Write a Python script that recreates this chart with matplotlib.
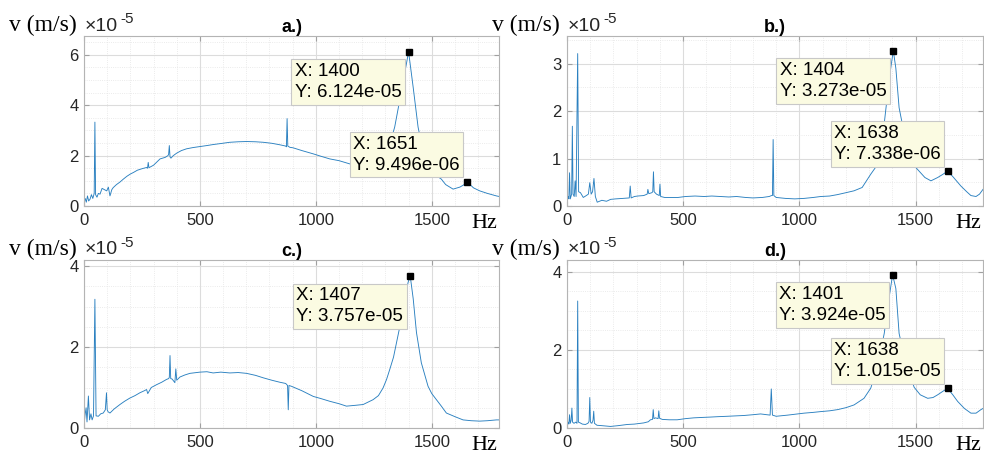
import matplotlib
matplotlib.use("Agg")
import matplotlib.pyplot as plt
from matplotlib.ticker import MultipleLocator

plt.rcParams['font.family'] = ['Liberation Sans', 'DejaVu Sans']

# espectros (velocidad en unidades de 1e-5 m/s, frecuencia en Hz)
f_a = [0, 5, 10, 15, 20, 26, 32, 38, 44, 47, 50, 56, 62, 69, 78, 88, 98, 105, 112, 120,
       126, 140, 155, 170, 185, 200, 213, 230, 250, 270, 274, 277, 280, 300, 328, 350, 362, 365, 368, 371,
       375, 385, 400, 420, 442, 470, 500, 530, 557, 590, 629, 665, 701, 740, 773, 810, 845, 870, 873, 876,
       879, 888, 902, 940, 989, 1020, 1060, 1100, 1147, 1190, 1230, 1270, 1300, 1320, 1340, 1370, 1400, 1420, 1441, 1460,
       1480, 1500, 1520, 1541, 1560, 1592, 1610, 1621, 1640, 1651, 1665, 1680, 1707, 1740, 1779, 1790]
v_a = [0.13, 0.3, 0.15, 0.4, 0.2, 0.27, 0.45, 0.3, 0.5, 3.33, 0.45, 0.35, 0.5, 0.47, 0.7, 0.65, 0.6, 0.75, 0.4, 0.65,
       0.73, 0.85, 0.95, 1.07, 1.18, 1.27, 1.33, 1.42, 1.48, 1.53, 1.5, 1.73, 1.52, 1.62, 1.87, 1.93, 2.0, 2.05, 2.4, 1.95,
       1.9, 2.0, 2.1, 2.2, 2.27, 2.32, 2.36, 2.4, 2.44, 2.48, 2.53, 2.55, 2.56, 2.55, 2.53, 2.49, 2.43, 2.38, 2.35, 3.47,
       2.38, 2.33, 2.31, 2.2, 2.07, 1.98, 1.87, 1.8, 1.67, 1.6, 1.6, 1.75, 2.05, 2.5, 3.13, 4.6, 6.124, 4.7, 3.13, 2.3,
       1.75, 1.4, 1.2, 1.07, 0.85, 0.67, 0.72, 0.75, 0.85, 0.9496, 0.85, 0.72, 0.6, 0.5, 0.4, 0.38]

f_b = [0, 5, 8, 11, 14, 20, 23, 26, 31, 35, 39, 46, 50, 58, 70, 80, 92, 98, 104, 110,
       116, 122, 130, 150, 170, 188, 210, 240, 268, 272, 276, 290, 304, 330, 345, 348, 352, 365, 369, 372,
       375, 385, 397, 400, 403, 420, 450, 478, 510, 551, 590, 623, 660, 696, 730, 768, 800, 841, 870, 880,
       884, 887, 890, 900, 940, 980, 1020, 1060, 1092, 1130, 1164, 1200, 1235, 1270, 1307, 1333, 1355, 1372, 1390, 1404,
       1415, 1429, 1460, 1501, 1540, 1566, 1595, 1615, 1638, 1660, 1695, 1720, 1738, 1760, 1775, 1790]
v_b = [0.14, 0.2, 0.15, 0.7, 0.15, 0.25, 1.68, 0.25, 0.2, 0.53, 0.2, 3.21, 0.3, 0.28, 0.18, 0.21, 0.25, 0.49, 0.25, 0.3,
       0.58, 0.2, 0.08, 0.12, 0.1, 0.14, 0.15, 0.16, 0.17, 0.42, 0.17, 0.2, 0.21, 0.22, 0.25, 0.35, 0.26, 0.28, 0.3, 0.72,
       0.3, 0.25, 0.22, 0.46, 0.2, 0.18, 0.18, 0.18, 0.2, 0.21, 0.2, 0.21, 0.2, 0.19, 0.2, 0.18, 0.17, 0.18, 0.2, 0.22,
       0.22, 1.40, 0.22, 0.18, 0.16, 0.15, 0.16, 0.18, 0.2, 0.21, 0.24, 0.28, 0.32, 0.39, 0.67, 0.85, 1.3, 2.04, 2.8, 3.273,
       2.9, 2.07, 1.3, 0.81, 0.6, 0.53, 0.6, 0.66, 0.7338, 0.62, 0.42, 0.3, 0.22, 0.2, 0.25, 0.35]

f_c = [0, 4, 9, 13, 19, 24, 30, 35, 41, 47, 52, 62, 72, 83, 92, 97, 100, 104, 112, 130,
       155, 175, 198, 220, 241, 260, 270, 275, 290, 313, 335, 356, 365, 368, 371, 374, 380, 392, 396, 400,
       414, 435, 457, 500, 530, 557, 590, 629, 665, 701, 740, 773, 810, 845, 870, 878, 881, 884, 895, 940,
       989, 1020, 1060, 1100, 1132, 1170, 1204, 1247, 1270, 1290, 1305, 1319, 1335, 1348, 1369, 1385, 1398, 1407, 1420, 1434,
       1455, 1484, 1500, 1520, 1540, 1563, 1600, 1635, 1670, 1707, 1740, 1779, 1790]
v_c = [0.05, 0.3, 0.5, 0.15, 0.79, 0.2, 0.35, 0.2, 0.3, 3.18, 0.3, 0.29, 0.35, 0.37, 0.45, 0.87, 0.45, 0.4, 0.37, 0.47,
       0.58, 0.66, 0.74, 0.8, 0.87, 0.92, 0.95, 0.85, 1.0, 1.07, 1.13, 1.2, 1.22, 1.25, 1.79, 1.22, 1.21, 1.12, 1.46, 1.18,
       1.26, 1.31, 1.35, 1.38, 1.39, 1.36, 1.38, 1.36, 1.37, 1.35, 1.3, 1.24, 1.18, 1.13, 1.1, 1.05, 0.45, 1.05, 1.03, 0.92,
       0.78, 0.73, 0.66, 0.6, 0.54, 0.56, 0.58, 0.7, 0.8, 0.99, 1.2, 1.45, 1.75, 2.11, 2.69, 3.2, 3.6, 3.757, 3.19, 2.36,
       1.61, 1.03, 0.85, 0.7, 0.55, 0.37, 0.28, 0.2, 0.18, 0.17, 0.18, 0.2, 0.2]

f_d = [0, 5, 8, 11, 14, 18, 21, 24, 30, 38, 43, 46, 49, 57, 66, 79, 90, 95, 98, 101,
       107, 112, 115, 118, 129, 150, 187, 220, 259, 290, 330, 350, 359, 368, 371, 374, 381, 392, 395, 398,
       410, 440, 474, 510, 546, 580, 618, 650, 690, 725, 761, 800, 833, 860, 874, 879, 884, 900, 950, 1020,
       1060, 1092, 1130, 1164, 1200, 1235, 1278, 1307, 1335, 1365, 1385, 1401, 1415, 1429, 1460, 1494, 1520, 1552, 1575, 1595,
       1620, 1638, 1660, 1681, 1710, 1738, 1760, 1781, 1790]
v_d = [0.09, 0.15, 0.1, 0.34, 0.12, 0.2, 0.51, 0.15, 0.12, 0.15, 0.12, 3.25, 0.15, 0.13, 0.1, 0.09, 0.12, 0.17, 0.78, 0.15,
       0.12, 0.2, 0.43, 0.12, 0.07, 0.06, 0.04, 0.06, 0.09, 0.1, 0.13, 0.16, 0.21, 0.22, 0.47, 0.24, 0.26, 0.24, 0.44, 0.25,
       0.22, 0.21, 0.21, 0.24, 0.26, 0.27, 0.28, 0.29, 0.3, 0.31, 0.32, 0.34, 0.36, 0.34, 0.33, 1.0, 0.33, 0.3, 0.33, 0.38,
       0.4, 0.42, 0.44, 0.47, 0.52, 0.59, 0.76, 1.02, 1.55, 2.42, 3.3, 3.924, 3.57, 2.42, 1.6, 1.04, 0.85, 0.76, 0.78, 0.85,
       0.95, 1.015, 0.85, 0.68, 0.5, 0.38, 0.38, 0.47, 0.5]

# data tips (X en Hz, Y en m/s)
tips_a = [(1400, 6.124e-05), (1651, 9.496e-06)]
tips_b = [(1404, 3.273e-05), (1638, 7.338e-06)]
tips_c = [(1407, 3.757e-05)]
tips_d = [(1401, 3.924e-05), (1638, 1.015e-05)]

W, H = 984, 457
fig = plt.figure(figsize=(W / 100, H / 100), dpi=100)


def ejes(izq, der, arriba, abajo):
    # posicion en pixeles de la imagen -> fraccion de la figura
    return fig.add_axes([izq / W, 1 - abajo / H, (der - izq) / W, (abajo - arriba) / H])


paneles = [
    (ejes(84, 499, 36, 206), f_a, v_a, tips_a, 'a.)', 6.75, 2),
    (ejes(567, 983, 36, 206), f_b, v_b, tips_b, 'b.)', 3.58, 1),
    (ejes(84, 499, 260, 428), f_c, v_c, tips_c, 'c.)', 4.15, 2),
    (ejes(567, 983, 260, 428), f_d, v_d, tips_d, 'd.)', 4.3, 2),
]

for ax, f, v, tips, titulo, ytop, paso in paneles:
    ax.plot(f, v, color='#2a80c0', lw=0.65)
    ax.set_xlim(0, 1790)
    ax.set_ylim(0, ytop)
    ax.xaxis.set_major_locator(MultipleLocator(500))
    ax.xaxis.set_minor_locator(MultipleLocator(100))
    ax.yaxis.set_major_locator(MultipleLocator(paso))
    ax.yaxis.set_minor_locator(MultipleLocator(0.5))
    ax.grid(which='major', color='#dcdcdc', lw=0.8)
    ax.grid(which='minor', color='#e4e4e4', lw=0.6, ls=':')
    ax.set_axisbelow(True)
    ax.tick_params(which='both', direction='in', top=True, right=True,
                   color='#a0a0a0', labelcolor='#262626', labelsize=12)
    ax.tick_params(which='minor', length=0)
    ax.tick_params(axis='x', pad=5)
    ax.tick_params(axis='y', pad=4)
    for s in ax.spines.values():
        s.set_color('#b4b4b4')
        s.set_linewidth(0.8)

    ax.set_title(titulo, fontsize=13, fontweight='bold', pad=3)
    ax.annotate('v (m/s)', (0, 1), xycoords='axes fraction', xytext=(-75, 11),
                textcoords='offset pixels', ha='left', va='center',
                family='Liberation Serif', fontsize=17)
    # factor de escala del eje y, estilo matlab
    ax.annotate('×10', (0, 1), xycoords='axes fraction', xytext=(1, 10),
                textcoords='offset pixels', ha='left', va='center',
                fontsize=14, color='#262626')
    ax.annotate('-5', (0, 1), xycoords='axes fraction', xytext=(36, 17),
                textcoords='offset pixels', ha='left', va='center',
                fontsize=11, color='#262626')
    ax.annotate('Hz', (1, 0), xycoords='axes fraction', xytext=(-2, -17),
                textcoords='offset pixels', ha='right', va='center',
                family='Liberation Serif', fontsize=16)

    for i, (tx, ty) in enumerate(tips):
        ax.plot(tx, ty * 1e5, 's', color='k', ms=4.3, zorder=6, clip_on=False)
        txt = f'X: {tx}\nY: {ty:.3e}'
        if i == 0:
            off, va = (-7, -11), 'top'
        else:
            off, va = (-7, 8), 'bottom'
        ax.annotate(txt, (tx, ty * 1e5), xytext=off, textcoords='offset pixels',
                    ha='right', va=va, multialignment='left', fontsize=13.5,
                    linespacing=1.35, zorder=5, annotation_clip=False,
                    bbox=dict(boxstyle='square,pad=0.18', fc='#fbfbe2', ec='#c8c8c8', lw=0.8))

plt.savefig('out.png', dpi=100)
